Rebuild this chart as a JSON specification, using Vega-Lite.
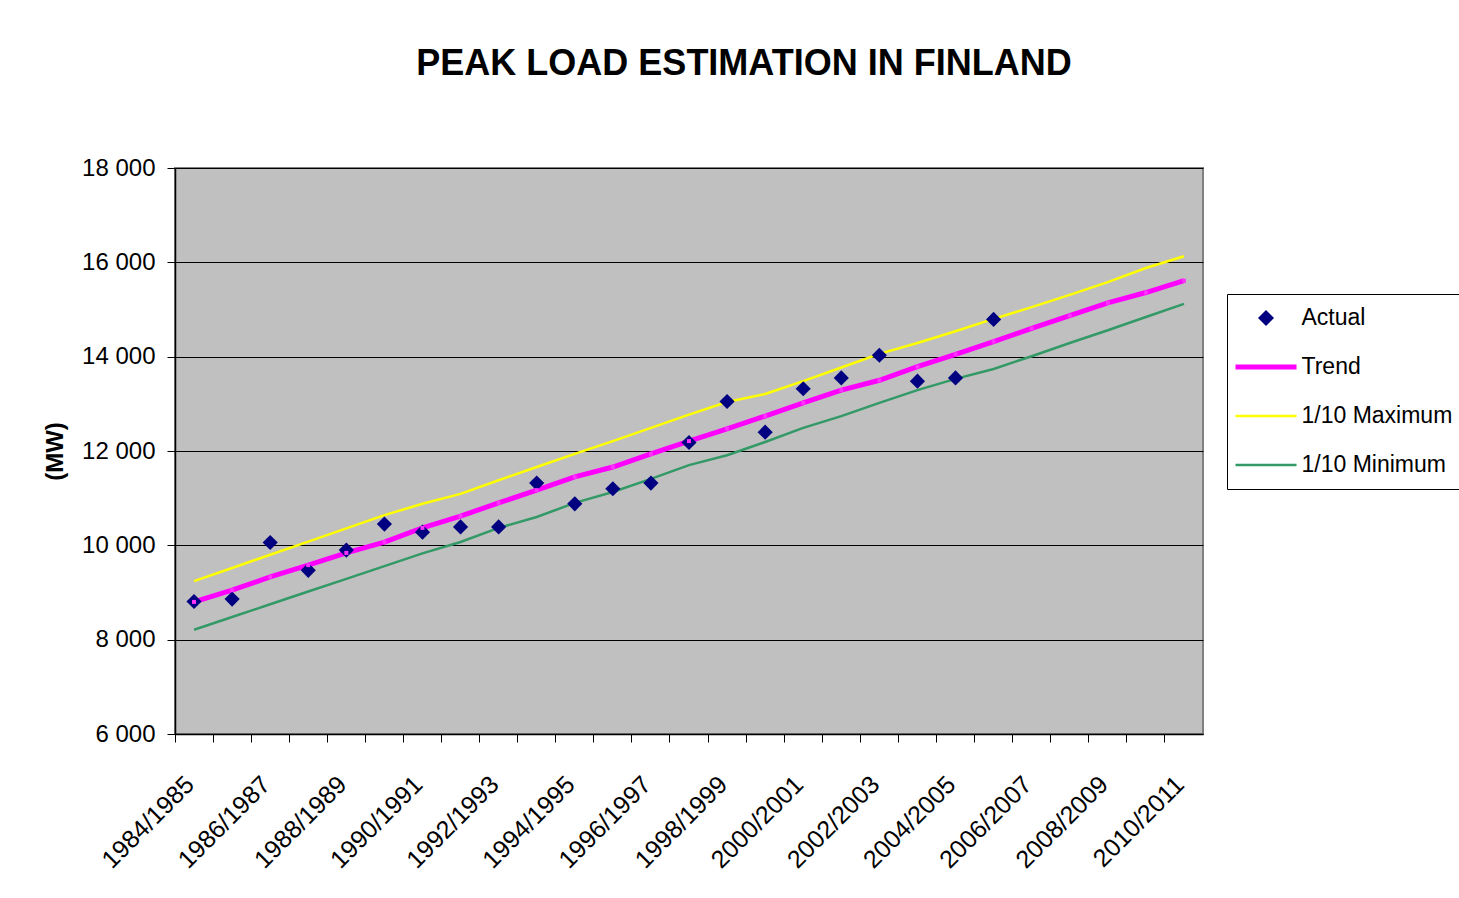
{
  "$schema": "https://vega.github.io/schema/vega-lite/v6.json",
  "width": 1028,
  "height": 566,
  "autosize": {"type": "none"},
  "padding": {"left": 175, "top": 168, "right": 256, "bottom": 164},
  "background": "white",
  "config": {
    "view": {"fill": "#C0C0C0", "stroke": "#808080", "strokeWidth": 2},
    "font": "Liberation Sans"
  },
  "title": {
    "text": "PEAK LOAD ESTIMATION IN FINLAND",
    "font": "Liberation Sans",
    "fontSize": 36,
    "fontWeight": "bold",
    "color": "black",
    "anchor": "middle",
    "offset": 73,
    "dx": 55
  },
  "data": {
    "values": [
      {"season": "1984/1985", "Actual": 8810, "Trend": 8800, "Max": 9240, "Min": 8210},
      {"season": "1985/1986", "Actual": 8860, "Trend": 9050, "Max": 9520, "Min": 8480},
      {"season": "1986/1987", "Actual": 10060, "Trend": 9330, "Max": 9800, "Min": 8750},
      {"season": "1987/1988", "Actual": 9470, "Trend": 9580, "Max": 10080, "Min": 9020},
      {"season": "1988/1989", "Actual": 9900, "Trend": 9840, "Max": 10360, "Min": 9290},
      {"season": "1989/1990", "Actual": 10450, "Trend": 10070, "Max": 10640, "Min": 9560},
      {"season": "1990/1991", "Actual": 10280, "Trend": 10370, "Max": 10880, "Min": 9830},
      {"season": "1991/1992", "Actual": 10390, "Trend": 10620, "Max": 11090, "Min": 10070},
      {"season": "1992/1993", "Actual": 10390, "Trend": 10900, "Max": 11380, "Min": 10370},
      {"season": "1993/1994", "Actual": 11320, "Trend": 11170, "Max": 11660, "Min": 10600},
      {"season": "1994/1995", "Actual": 10880, "Trend": 11450, "Max": 11940, "Min": 10900},
      {"season": "1995/1996", "Actual": 11200, "Trend": 11660, "Max": 12210, "Min": 11130},
      {"season": "1996/1997", "Actual": 11320, "Trend": 11940, "Max": 12490, "Min": 11410},
      {"season": "1997/1998", "Actual": 12180, "Trend": 12210, "Max": 12770, "Min": 11700},
      {"season": "1998/1999", "Actual": 13050, "Trend": 12470, "Max": 13040, "Min": 11910},
      {"season": "1999/2000", "Actual": 12400, "Trend": 12740, "Max": 13210, "Min": 12190},
      {"season": "2000/2001", "Actual": 13320, "Trend": 13020, "Max": 13480, "Min": 12490},
      {"season": "2001/2002", "Actual": 13550, "Trend": 13290, "Max": 13770, "Min": 12740},
      {"season": "2002/2003", "Actual": 14030, "Trend": 13500, "Max": 14060, "Min": 13020},
      {"season": "2003/2004", "Actual": 13480, "Trend": 13790, "Max": 14290, "Min": 13290},
      {"season": "2004/2005", "Actual": 13550, "Trend": 14050, "Max": 14540, "Min": 13530},
      {"season": "2005/2006", "Actual": 14790, "Trend": 14320, "Max": 14800, "Min": 13740},
      {"season": "2006/2007", "Trend": 14600, "Max": 15050, "Min": 14010},
      {"season": "2007/2008", "Trend": 14870, "Max": 15310, "Min": 14290},
      {"season": "2008/2009", "Trend": 15140, "Max": 15580, "Min": 14560},
      {"season": "2009/2010", "Trend": 15360, "Max": 15880, "Min": 14840},
      {"season": "2010/2011", "Trend": 15610, "Max": 16130, "Min": 15120}
    ]
  },
  "encoding": {
    "x": {
      "field": "season",
      "type": "ordinal",
      "scale": {"type": "band", "paddingInner": 0, "paddingOuter": 0},
      "axis": {
        "title": null,
        "bandPosition": 0,
        "labelOffset": -4,
        "labelAngle": -45,
        "labelAlign": "right",
        "labelBaseline": "middle",
        "labelFont": "Liberation Sans",
        "labelFontSize": 25,
        "labelColor": "black",
        "labelPadding": 38,
        "labelOverlap": false,
        "labelBound": false,
        "labelExpr": "toNumber(slice(datum.value,0,4)) % 2 == 0 ? datum.value : ''",
        "tickSize": 8,
        "tickColor": "black",
        "domainColor": "black",
        "domainWidth": 1.5,
        "grid": false
      }
    }
  },
  "layer": [
    {
      "mark": {"type": "line", "strokeWidth": 2.5},
      "encoding": {
        "y": {
          "field": "Max",
          "type": "quantitative",
          "scale": {"domain": [6000, 18000], "nice": false, "zero": false},
          "axis": {
            "title": "(MW)",
            "titleFont": "Liberation Sans",
            "titleFontSize": 24,
            "titleFontWeight": "bold",
            "titleColor": "black",
            "titleX": -120,
            "titleY": 283,
            "titleAlign": "center",
            "titleBaseline": "middle",
            "values": [6000, 8000, 10000, 12000, 14000, 16000, 18000],
            "labelExpr": "replace(format(datum.value, ','), ',', ' ')",
            "labelFont": "Liberation Sans",
            "labelFontSize": 24,
            "labelColor": "black",
            "labelPadding": 12,
            "tickSize": 8,
            "tickColor": "black",
            "domainColor": "black",
            "domainWidth": 1.5,
            "grid": true,
            "gridColor": "black",
            "gridWidth": 1
          }
        },
        "color": {
          "datum": "1/10 Maximum",
          "type": "nominal",
          "scale": {
            "domain": ["Actual", "Trend", "1/10 Maximum", "1/10 Minimum"],
            "range": ["#000080", "#FF00FF", "#FFFF00", "#339966"]
          },
          "legend": {
            "orient": "none",
            "legendX": 1052,
            "legendY": 126,
            "title": null,
            "strokeColor": "black",
            "fillColor": "white",
            "padding": 8,
            "clipHeight": 32,
            "rowPadding": 17,
            "symbolType": "stroke",
            "symbolSize": 3721,
            "symbolStrokeWidth": 2.5,
            "symbolOffset": 19.5,
            "labelFont": "Liberation Sans",
            "labelFontSize": 23,
            "labelColor": "black",
            "labelOffset": 24,
            "labelLimit": 400,
            "encode": {
              "symbols": {
                "update": {
                  "shape": {"signal": "datum.value === 'Actual' ? 'diamond' : 'stroke'"},
                  "size": {"signal": "datum.value === 'Actual' ? 256 : 3721"},
                  "strokeWidth": {"signal": "datum.value === 'Trend' ? 5 : (datum.value === 'Actual' ? 0 : 2.5)"},
                  "fill": {"signal": "datum.value === 'Actual' ? '#000080' : 'transparent'"}
                }
              }
            }
          }
        }
      }
    },
    {
      "mark": {"type": "line", "strokeWidth": 2.5},
      "encoding": {
        "y": {"field": "Min", "type": "quantitative"},
        "color": {"datum": "1/10 Minimum", "type": "nominal"}
      }
    },
    {
      "mark": {"type": "line", "strokeWidth": 5},
      "encoding": {
        "y": {"field": "Trend", "type": "quantitative"},
        "color": {"datum": "Trend", "type": "nominal"}
      }
    },
    {
      "mark": {"type": "point", "shape": "diamond", "filled": true, "size": 230, "color": "#000080", "opacity": 1},
      "encoding": {"y": {"field": "Actual", "type": "quantitative"}}
    },
    {
      "mark": {"type": "square", "size": 16, "color": "#FF33FF", "opacity": 1},
      "encoding": {"y": {"field": "Trend", "type": "quantitative"}}
    }
  ]
}
